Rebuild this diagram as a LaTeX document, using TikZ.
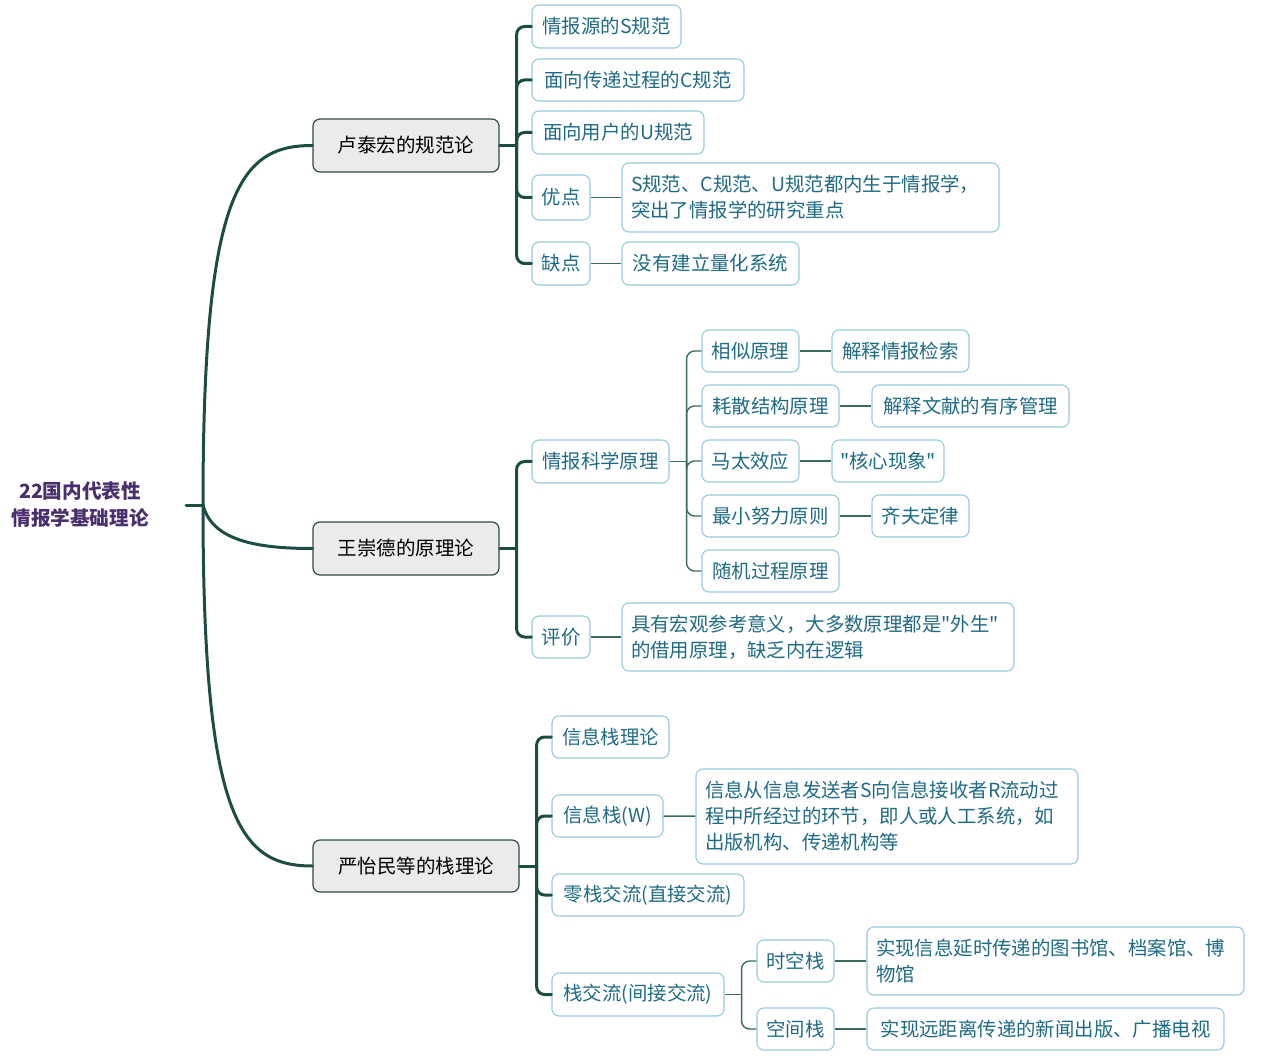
\documentclass[tikz,border=0pt]{standalone}
\usepackage{fontspec}
\newfontfamily\cjk{Noto Sans CJK SC}
\definecolor{connc}{HTML}{1B4D44}
\definecolor{thinc}{HTML}{3C6B62}
\definecolor{lonefill}{HTML}{EBEBEB}
\definecolor{loneborder}{HTML}{2E4A45}
\definecolor{ltwoborder}{HTML}{94CBDD}
\definecolor{txtc}{HTML}{1F6B85}
\definecolor{rootc}{HTML}{4A2F6E}
\tikzset{
  rootnode/.style={text=rootc, font=\cjk\fontsize{19.6}{27}\selectfont\bfseries, align=center, inner sep=0},
  lone/.style={draw=loneborder, fill=lonefill, rounded corners=7, line width=1.2, text=black,
    font=\cjk\fontsize{19.5}{26}\selectfont, inner sep=0},
  box/.style={draw=ltwoborder, fill=white, rounded corners=7, line width=1.1, text=txtc,
    font=\cjk\fontsize{19.4}{26}\selectfont, inner sep=0},
  mbox/.style={box, align=left, text width=#1, inner xsep=9},
  thickc/.style={draw=connc, line width=3, line cap=round},
  thinc/.style={draw=thinc, line width=1.4},
}
\begin{document}
\begin{tikzpicture}[x=1pt,y=-1pt]
\useasboundingbox (0,0) rectangle (1267,1056);

% root
\node[rootnode] (root) at (80,505) {22国内代表性\\情报学基础理论};
\coordinate (rj) at (203,505);
\coordinate (rs) at (186,505);

% level 1
\node[lone, minimum width=186, minimum height=53] (A) at (406,145.5) {卢泰宏的规范论};
\node[lone, minimum width=186, minimum height=53] (B) at (406,548.5) {王崇德的原理论};
\node[lone, minimum width=206, minimum height=52] (C) at (416,866) {严怡民等的栈理论};

% A children
\node[box, minimum width=149, minimum height=43] (a1) at (606.5,26.5) {情报源的S规范};
\node[box, minimum width=212, minimum height=42] (a2) at (638,80) {面向传递过程的C规范};
\node[box, minimum width=172, minimum height=43] (a3) at (618,132.5) {面向用户的U规范};
\node[box, minimum width=58, minimum height=45] (a4) at (561,197.5) {优点};
\node[box, minimum width=58, minimum height=43] (a5) at (561,263.5) {缺点};
\node[mbox=359, minimum height=69] (a4x) at (810.5,197.5) {S规范、C规范、U规范都内生于情报学，\\突出了情报学的研究重点};
\node[box, minimum width=177, minimum height=43] (a5x) at (710.5,263.5) {没有建立量化系统};

% B children
\node[box, minimum width=137, minimum height=43] (b1) at (600.5,461.5) {情报科学原理};
\node[box, minimum width=58, minimum height=42] (b2) at (561,637) {评价};
\node[mbox=374, minimum height=68] (b2x) at (818,637) {具有宏观参考意义，大多数原理都是"外生"\\的借用原理，缺乏内在逻辑};
\node[box, minimum width=97, minimum height=42] (b11) at (750.5,351) {相似原理};
\node[box, minimum width=137, minimum height=42] (b11x) at (900.5,351) {解释情报检索};
\node[box, minimum width=137, minimum height=42] (b12) at (770.5,406) {耗散结构原理};
\node[box, minimum width=197, minimum height=42] (b12x) at (970.5,406) {解释文献的有序管理};
\node[box, minimum width=97, minimum height=42] (b13) at (750.5,461) {马太效应};
\node[box, minimum width=112, minimum height=42] (b13x) at (888,461) {"核心现象"};
\node[box, minimum width=137, minimum height=42] (b14) at (770.5,516) {最小努力原则};
\node[box, minimum width=97, minimum height=42] (b14x) at (920.5,516) {齐夫定律};
\node[box, minimum width=137, minimum height=42] (b15) at (770.5,571) {随机过程原理};

% C children
\node[box, minimum width=117, minimum height=42] (c1) at (610.5,737) {信息栈理论};
\node[box, minimum width=111, minimum height=42] (c2) at (607.5,816) {信息栈(W)};
\node[mbox=364, minimum height=95] (c2x) at (887,816.5) {信息从信息发送者S向信息接收者R流动过\\程中所经过的环节，即人或人工系统，如\\出版机构、传递机构等};
\node[box, minimum width=192, minimum height=42] (c3) at (648,895) {零栈交流(直接交流)};
\node[box, minimum width=172, minimum height=43] (c4) at (638,994.5) {栈交流(间接交流)};
\node[box, minimum width=77, minimum height=42] (c41) at (795.5,961) {时空栈};
\node[mbox=359, minimum height=68] (c41x) at (1055.5,961) {实现信息延时传递的图书馆、档案馆、博\\物馆};
\node[box, minimum width=77, minimum height=42] (c42) at (795.5,1029) {空间栈};
\node[box, minimum width=357, minimum height=42] (c42x) at (1045.5,1029) {实现远距离传递的新闻出版、广播电视};

% root connectors
\draw[thickc] (rs) -- (rj);
\draw[thickc] (rj) .. controls (203,190) and (240,145.5) .. (A.west);
\draw[thickc] (rj) .. controls (212,540) and (255,548.5) .. (B.west);
\draw[thickc] (rj) .. controls (203,820) and (240,866) .. (C.west);

% A bracket
\coordinate (ja) at ([xshift=17]A.east);
\draw[thickc] (A.east) -- (ja);
\foreach \n in {a1,a2,a3,a4,a5}
  \draw[thickc, rounded corners=8] (ja) |- (\n.west);
\draw[thinc] (a4) -- (a4x);
\draw[thinc] (a5) -- (a5x);

% B bracket
\coordinate (jb) at ([xshift=17]B.east);
\draw[thickc] (B.east) -- (jb);
\foreach \n in {b1,b2}
  \draw[thickc, rounded corners=8] (jb) |- (\n.west);
\draw[thinc] (b2) -- (b2x);
\coordinate (jb1) at ([xshift=17]b1.east);
\draw[thinc] (b1.east) -- (jb1);
\foreach \n in {b11,b12,b13,b14,b15}
  \draw[thinc, rounded corners=8] (jb1) |- (\n.west);
\draw[thinc] (b11) -- (b11x);
\draw[thinc] (b12) -- (b12x);
\draw[thinc] (b13) -- (b13x);
\draw[thinc] (b14) -- (b14x);

% C bracket
\coordinate (jc) at ([xshift=17]C.east);
\draw[thickc] (C.east) -- (jc);
\foreach \n in {c1,c2,c3,c4}
  \draw[thickc, rounded corners=8] (jc) |- (\n.west);
\draw[thinc] (c2) -- (c2x);
\coordinate (jc4) at ([xshift=17]c4.east);
\draw[thinc] (c4.east) -- (jc4);
\foreach \n in {c41,c42}
  \draw[thinc, rounded corners=8] (jc4) |- (\n.west);
\draw[thinc] (c41) -- (c41x);
\draw[thinc] (c42) -- (c42x);
\end{tikzpicture}
\end{document}
